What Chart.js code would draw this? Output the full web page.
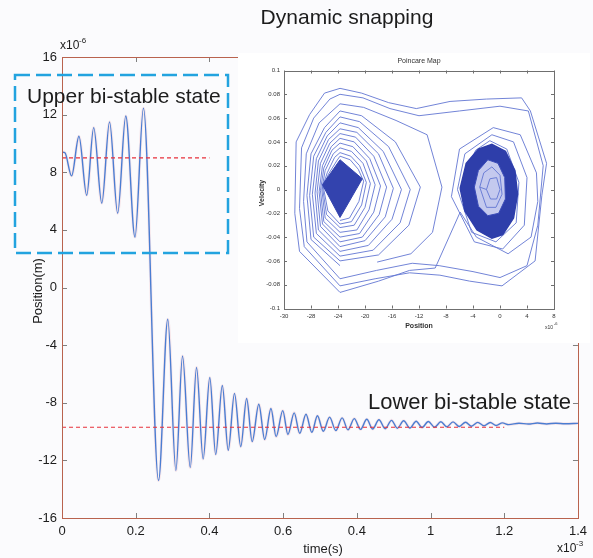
<!DOCTYPE html>
<html>
<head>
<meta charset="utf-8">
<script src="https://cdn.jsdelivr.net/npm/chart.js@4.4.1/dist/chart.umd.min.js"></script>
<style>
  html, body { margin: 0; padding: 0; background: #fbfbfd; }
  #wrap { position: relative; width: 593px; height: 558px; }
  #main { position: absolute; left: 0; top: 0; }
  #inset { position: absolute; left: 238px; top: 53px; background: #fff; }
</style>
</head>
<body>
<div id="wrap">
  <canvas id="main" width="593" height="558"></canvas>
  <canvas id="inset" width="352" height="290"></canvas>
</div>
<script>
// time in 1e-3 s, position in 1e-6 m (turning points)
const timeMs = [0, 0.008, 0.026, 0.046, 0.067, 0.086, 0.108, 0.129, 0.151, 0.173, 0.198, 0.221,
  0.262, 0.287, 0.309, 0.327, 0.348, 0.365, 0.383, 0.401, 0.417, 0.435, 0.451, 0.468, 0.485, 0.501,
  0.516, 0.534, 0.550, 0.567, 0.581, 0.599, 0.613, 0.630, 0.645, 0.662, 0.678, 0.693, 0.709,
  0.726, 0.743, 0.760, 0.776, 0.793, 0.810, 0.827, 0.843, 0.860, 0.877, 0.894, 0.910, 0.927, 0.944,
  0.961, 0.977, 0.994, 1.011, 1.028, 1.044, 1.061, 1.078, 1.095, 1.111, 1.128, 1.145, 1.162, 1.178,
  1.195, 1.212, 1.240, 1.265, 1.290, 1.315, 1.340, 1.365, 1.400];
const positionUm = [9.4, 9.35, 7.75, 10.5, 6.4, 11.1, 5.85, 11.5, 5.15, 11.9, 3.5, 12.45,
  -13.4, -2.2, -12.7, -4.75, -12.5, -5.55, -11.9, -6.25, -11.6, -6.8, -11.3, -7.35, -11.05, -7.7,
  -10.7, -8.1, -10.55, -8.4, -10.35, -8.55, -10.2, -8.7, -10.12, -8.8, -10.05, -8.9, -9.98,
  -9.0, -9.93, -9.05, -9.88, -9.1, -9.85, -9.15, -9.82, -9.18, -9.8, -9.22, -9.77, -9.25, -9.75,
  -9.28, -9.72, -9.3, -9.7, -9.32, -9.67, -9.33, -9.65, -9.35, -9.63, -9.36, -9.6, -9.37, -9.58,
  -9.4, -9.52, -9.42, -9.48, -9.41, -9.47, -9.42, -9.46, -9.43];
const upperStateT = [0, 0.4];
const upperStateY = [9.0, 9.0];
const lowerStateT = [0, 1.2];
const lowerStateY = [-9.7, -9.7];
const xTickValues = [0, 0.2, 0.4, 0.6, 0.8, 1, 1.2, 1.4];
const xTickLabels = ['0', '0.2', '0.4', '0.6', '0.4', '1', '1.2', '1.4'];
const yTickValues = [-16, -12, -8, -4, 0, 4, 8, 12, 16];

// Poincare map: position (1e-6 m), velocity
const rightLoops = [[-4.8, 0.018], [-3.6, 0.033], [-1.5, 0.041], [1.0, 0.034], [2.8, 0.006], [2.4, -0.028],
  [-0.6, -0.044], [-4.2, -0.036], [-6.3, 0.0], [-5.2, 0.030], [-1.2, 0.046], [2.0, 0.040], [4.0, 0.010],
  [3.6, -0.030], [0.4, -0.050], [-3.8, -0.044], [-7.2, -0.006], [-6.0, 0.034], [-1.0, 0.052], [3.0, 0.046],
  [5.4, 0.014], [5.6, -0.010], [4.6, -0.040], [1.2, -0.054], [-3.5, -0.040], [-5.9, -0.019], [-9.6, -0.066]];
const crossingLoops = [[-9.6, -0.066], [-13.4, -0.068], [-18.0, -0.077], [-23.7, -0.0865], [-29.7, -0.052],
  [-30.4, -0.02], [-30.2, 0.040], [-28.2, 0.063], [-26.0, 0.081], [-23.7, 0.085], [-20.5, 0.081], [-16.5, 0.073],
  [-12.4, 0.068], [-7.4, 0.074], [-2.0, 0.076], [3.2, 0.077], [4.5, 0.066], [6.9, 0.022], [6.2, -0.005],
  [5.2, -0.060], [0.3, -0.081], [-4.5, -0.077], [-8.9, -0.072], [-13.4, -0.070], [-18.5, -0.075], [-23.7, -0.081],
  [-29.0, -0.048], [-29.7, -0.016], [-29.4, 0.035], [-27.6, 0.060], [-25.2, 0.076], [-23.7, 0.080], [-20.3, 0.077],
  [-16.3, 0.068], [-12.0, 0.062], [-6.0, 0.066], [0.0, 0.070], [4.2, 0.066], [6.4, 0.020], [5.6, -0.030],
  [4.0, -0.064], [0.0, -0.074], [-4.0, -0.069], [-9.0, -0.064], [-13.0, -0.062], [-18.3, -0.068], [-23.7, -0.075],
  [-28.6, -0.044], [-29.1, -0.010], [-28.7, 0.030], [-26.8, 0.056], [-23.7, 0.072], [-20.2, 0.069], [-15.4, 0.058],
  [-10.8, 0.046], [-8.6, 0.002], [-10.0, -0.036], [-13.2, -0.054], [-18.2, -0.061]];
const leftLoops = [[-23.7, -0.064], [-28.0, -0.042], [-28.6, -0.005], [-28.0, 0.030], [-26.0, 0.052], [-23.7, 0.066],
  [-20.5, 0.062], [-15.5, 0.040], [-11.8, 0.002], [-13.5, -0.030], [-18.0, -0.055],
  [-23.7, -0.060], [-27.6, -0.040], [-28.2, -0.005], [-27.6, 0.028], [-25.8, 0.048], [-23.7, 0.061],
  [-20.8, 0.057], [-16.5, 0.036], [-13.3, 0.0], [-14.8, -0.028], [-18.8, -0.051],
  [-23.7, -0.056], [-27.2, -0.037], [-27.8, -0.004], [-27.2, 0.026], [-25.6, 0.045], [-23.7, 0.056],
  [-21.0, 0.052], [-17.3, 0.032], [-14.6, 0.0], [-16.0, -0.025], [-19.5, -0.047],
  [-23.7, -0.052], [-26.9, -0.034], [-27.4, -0.003], [-26.9, 0.024], [-25.4, 0.042], [-23.7, 0.051],
  [-21.2, 0.048], [-18.0, 0.030], [-15.8, 0.001], [-17.0, -0.023], [-20.0, -0.043],
  [-23.7, -0.048], [-26.6, -0.031], [-27.1, -0.002], [-26.6, 0.022], [-25.2, 0.039], [-23.7, 0.047],
  [-21.4, 0.044], [-18.7, 0.028], [-16.8, 0.002], [-17.9, -0.021], [-20.4, -0.040],
  [-23.7, -0.044], [-26.3, -0.029], [-26.8, -0.002], [-26.3, 0.020], [-25.0, 0.036], [-23.7, 0.043],
  [-21.6, 0.040], [-19.3, 0.026], [-17.7, 0.003], [-18.7, -0.019], [-20.8, -0.037],
  [-23.7, -0.040], [-26.1, -0.027], [-26.6, -0.001], [-26.1, 0.018], [-24.9, 0.033], [-23.7, 0.039],
  [-21.8, 0.036], [-19.8, 0.024], [-18.5, 0.004], [-19.4, -0.017], [-21.2, -0.034],
  [-23.7, -0.036], [-25.9, -0.024], [-26.4, 0.0], [-25.9, 0.016], [-24.7, 0.030], [-23.7, 0.035],
  [-22.0, 0.032], [-20.3, 0.022], [-19.2, 0.005], [-20.0, -0.015], [-21.6, -0.030],
  [-23.7, -0.032], [-25.7, -0.021], [-26.3, 0.002], [-25.6, 0.014], [-24.5, 0.027], [-23.7, 0.031],
  [-22.1, 0.028], [-20.8, 0.020], [-19.8, 0.006], [-20.5, -0.013], [-22.0, -0.027],
  [-23.7, -0.029], [-25.5, -0.018], [-26.2, 0.003], [-25.4, 0.013], [-24.2, 0.024], [-23.7, 0.028],
  [-22.2, 0.025], [-21.0, 0.017], [-20.2, 0.007], [-20.9, -0.010], [-22.3, -0.024], [-23.7, -0.026]];
const leftCore = [[-23.7, -0.0235], [-26.3, 0.004], [-23.7, 0.025], [-20.4, 0.009], [-23.7, -0.0235]];
const rightCore = [[-5.9, 0.001], [-5.0, 0.022], [-3.2, 0.034], [-1.2, 0.038], [0.8, 0.032], [2.2, 0.016],
  [2.6, -0.004], [2.0, -0.024], [0.4, -0.038], [-1.2, -0.041], [-3.4, -0.034], [-5.2, -0.018], [-5.9, 0.001]];
const rightHole = [[-3.8, 0.002], [-3.2, 0.016], [-1.8, 0.025], [-0.3, 0.022], [0.7, 0.010], [0.8, -0.008],
  [-0.2, -0.020], [-1.8, -0.022], [-3.2, -0.014], [-3.8, 0.002]];
const rightInner = [[-3.0, 0.002], [-2.4, 0.014], [-1.2, 0.019], [0.0, 0.012], [0.3, -0.004], [-0.6, -0.015],
  [-2.0, -0.015], [-3.0, 0.002], [-2.0, 0.0], [-1.5, 0.009], [-0.5, 0.010], [0.0, 0.0], [-0.5, -0.008],
  [-1.4, -0.008], [-2.0, 0.0]];
const insetXTicks = [-32, -28, -24, -20, -16, -12, -8, -4, 0, 4, 8];
const insetXLabels = ['-30', '-28', '-24', '-20', '-16', '-12', '-8', '-4', '0', '4', '8'];
const insetYTicks = [-0.1, -0.08, -0.06, -0.04, -0.02, 0, 0.02, 0.04, 0.06, 0.08, 0.1];
const insetYLabels = ['-0.1', '-0.08', '-0.06', '-0.04', '-0.02', '0', '0.02', '0.04', '0.06', '0.08', '0.1'];

const FONT = '"Liberation Sans", Arial, sans-serif';
Chart.defaults.font.family = FONT;

const pts = (xs, ys) => xs.map((x, i) => ({x: x, y: ys[i]}));
const pairs = list => list.map(p => ({x: p[0], y: p[1]}));

function seg(ctx, x1, y1, x2, y2) {
  ctx.beginPath();
  ctx.moveTo(x1, y1);
  ctx.lineTo(x2, y2);
  ctx.stroke();
}

const mainDecor = {
  id: 'mainDecor',
  afterDraw(chart) {
    const {ctx, chartArea: a, scales: {x, y}} = chart;
    ctx.save();
    // inward ticks
    ctx.strokeStyle = '#808080';
    ctx.lineWidth = 1;
    xTickValues.forEach(v => {
      const px = Math.round(x.getPixelForValue(v)) + 0.5;
      seg(ctx, px, a.bottom, px, a.bottom - 5);
      seg(ctx, px, a.top, px, a.top + 5);
    });
    yTickValues.forEach(v => {
      const py = Math.round(y.getPixelForValue(v)) + 0.5;
      seg(ctx, a.left, py, a.left + 5, py);
      seg(ctx, a.right, py, a.right - 5, py);
    });
    // frame
    ctx.strokeStyle = '#b9634e';
    ctx.strokeRect(Math.round(a.left) + 0.5, Math.round(a.top) + 0.5, Math.round(a.width), Math.round(a.height));

    ctx.fillStyle = '#1c1c1c';
    ctx.textBaseline = 'alphabetic';
    ctx.textAlign = 'center';
    ctx.font = '21px ' + FONT;
    ctx.fillText('Dynamic snapping', 347, 24);

    ctx.textAlign = 'left';
    ctx.font = '12px ' + FONT;
    ctx.fillText('x10', 60, 49);
    ctx.fillText('x10', 557, 552);
    ctx.font = '8px ' + FONT;
    ctx.fillText('-6', 79, 43);
    ctx.fillText('-3', 576, 546);

    ctx.textAlign = 'center';
    ctx.font = '13px ' + FONT;
    ctx.fillText('time(s)', 323, 553);
    ctx.save();
    ctx.translate(38, 291);
    ctx.rotate(-Math.PI / 2);
    ctx.textBaseline = 'middle';
    ctx.fillText('Position(m)', 0, 0);
    ctx.restore();

    // highlighted upper state
    ctx.strokeStyle = '#22a3df';
    ctx.lineWidth = 2.5;
    ctx.setLineDash([15, 6]);
    ctx.strokeRect(15, 75, 213, 178);
    ctx.setLineDash([]);

    ctx.textAlign = 'left';
    ctx.font = '21px ' + FONT;
    ctx.fillText('Upper bi-stable state', 27, 103);
    ctx.font = '22px ' + FONT;
    ctx.fillText('Lower bi-stable state', 368, 409);
    ctx.restore();
  }
};

new Chart(document.getElementById('main'), {
  type: 'line',
  data: {
    datasets: [
      {data: pts(upperStateT, upperStateY), borderColor: '#e8313b', borderWidth: 1.2, borderDash: [4, 3], order: 0},
      {data: pts(lowerStateT, lowerStateY), borderColor: '#e8313b', borderWidth: 1.2, borderDash: [4, 3], order: 0},
      {data: pts(timeMs, positionUm), borderColor: '#4a7dd2', borderWidth: 1.4, cubicInterpolationMode: 'monotone', order: 1},
      {data: pts(timeMs, positionUm), borderColor: 'rgba(236,160,170,0.22)', borderWidth: 3, cubicInterpolationMode: 'monotone', order: 2}
    ]
  },
  options: {
    responsive: false,
    animation: false,
    layout: {padding: {left: 0, top: 57, right: 12, bottom: 0}},
    elements: {point: {radius: 0}},
    plugins: {legend: {display: false}, tooltip: {enabled: false}},
    scales: {
      x: {
        type: 'linear', min: 0, max: 1.4,
        afterBuildTicks: s => { s.ticks = xTickValues.map(v => ({value: v})); },
        afterFit: s => { s.height = 40; },
        ticks: {callback: (v, i) => xTickLabels[i], font: {size: 13}, color: '#1c1c1c', padding: 6, maxRotation: 0, autoSkip: false},
        grid: {display: false, drawTicks: false},
        border: {display: false}
      },
      y: {
        type: 'linear', min: -16, max: 16,
        afterBuildTicks: s => { s.ticks = yTickValues.map(v => ({value: v})); },
        afterFit: s => { s.width = 62; },
        ticks: {font: {size: 13}, color: '#1c1c1c', padding: 5},
        grid: {display: false, drawTicks: false},
        border: {display: false}
      }
    }
  },
  plugins: [mainDecor]
});

const insetDecor = {
  id: 'insetDecor',
  afterDraw(chart) {
    const {ctx, chartArea: a, scales: {x, y}} = chart;
    ctx.save();
    ctx.strokeStyle = '#6f6f6f';
    ctx.lineWidth = 1;
    insetXTicks.forEach(v => {
      const px = Math.round(x.getPixelForValue(v)) + 0.5;
      seg(ctx, px, a.bottom, px, a.bottom - 3);
      seg(ctx, px, a.top, px, a.top + 3);
    });
    insetYTicks.forEach(v => {
      const py = Math.round(y.getPixelForValue(v)) + 0.5;
      seg(ctx, a.left, py, a.left + 3, py);
      seg(ctx, a.right, py, a.right - 3, py);
    });
    ctx.strokeRect(Math.round(a.left) + 0.5, Math.round(a.top) + 0.5, Math.round(a.width), Math.round(a.height));

    ctx.fillStyle = '#333';
    ctx.textAlign = 'center';
    ctx.font = '7px ' + FONT;
    ctx.fillText('Poincare Map', (a.left + a.right) / 2, 10);
    ctx.font = 'bold 7px ' + FONT;
    ctx.fillText('Position', (a.left + a.right) / 2, 275);
    ctx.save();
    ctx.translate(24, 140);
    ctx.rotate(-Math.PI / 2);
    ctx.textBaseline = 'middle';
    ctx.fillText('Velocity', 0, 0);
    ctx.restore();
    ctx.textAlign = 'left';
    ctx.font = '5px ' + FONT;
    ctx.fillText('x10', 307, 276);
    ctx.font = '4px ' + FONT;
    ctx.fillText('-6', 316, 272);
    ctx.restore();
  }
};

const phaseLine = {borderColor: '#6276d2', borderWidth: 0.9, tension: 0};
new Chart(document.getElementById('inset'), {
  type: 'line',
  data: {
    datasets: [
      Object.assign({data: pairs(rightInner), order: 0}, phaseLine),
      Object.assign({data: pairs(rightHole), backgroundColor: '#c4c9ee', fill: 'shape', borderColor: '#3a4bb8', borderWidth: 1, order: 1}),
      Object.assign({data: pairs(rightCore), backgroundColor: '#2e3eaa', fill: 'shape', borderColor: '#2e3eaa', borderWidth: 1.5, order: 2}),
      Object.assign({data: pairs(leftCore), backgroundColor: '#3343ae', fill: 'shape', borderColor: '#3343ae', borderWidth: 1, order: 0}),
      Object.assign({data: pairs(leftLoops), order: 3}, phaseLine),
      Object.assign({data: pairs(crossingLoops), order: 3}, phaseLine),
      Object.assign({data: pairs(rightLoops), order: 3}, phaseLine)
    ]
  },
  options: {
    responsive: false,
    animation: false,
    layout: {padding: {left: 0, top: 17.5, right: 36, bottom: 0}},
    elements: {point: {radius: 0}},
    plugins: {legend: {display: false}, tooltip: {enabled: false}},
    scales: {
      x: {
        type: 'linear', min: -32, max: 8,
        afterBuildTicks: s => { s.ticks = insetXTicks.map(v => ({value: v})); },
        afterFit: s => { s.height = 34.5; },
        ticks: {callback: (v, i) => insetXLabels[i], font: {size: 6}, color: '#333', padding: 4, maxRotation: 0, autoSkip: false},
        grid: {display: false, drawTicks: false},
        border: {display: false}
      },
      y: {
        type: 'linear', min: -0.1, max: 0.1,
        afterBuildTicks: s => { s.ticks = insetYTicks.map(v => ({value: v})); },
        afterFit: s => { s.width = 46; },
        ticks: {callback: (v, i) => insetYLabels[i], font: {size: 6}, color: '#333', padding: 4, autoSkip: false},
        grid: {display: false, drawTicks: false},
        border: {display: false}
      }
    }
  },
  plugins: [insetDecor]
});
</script>
</body>
</html>
